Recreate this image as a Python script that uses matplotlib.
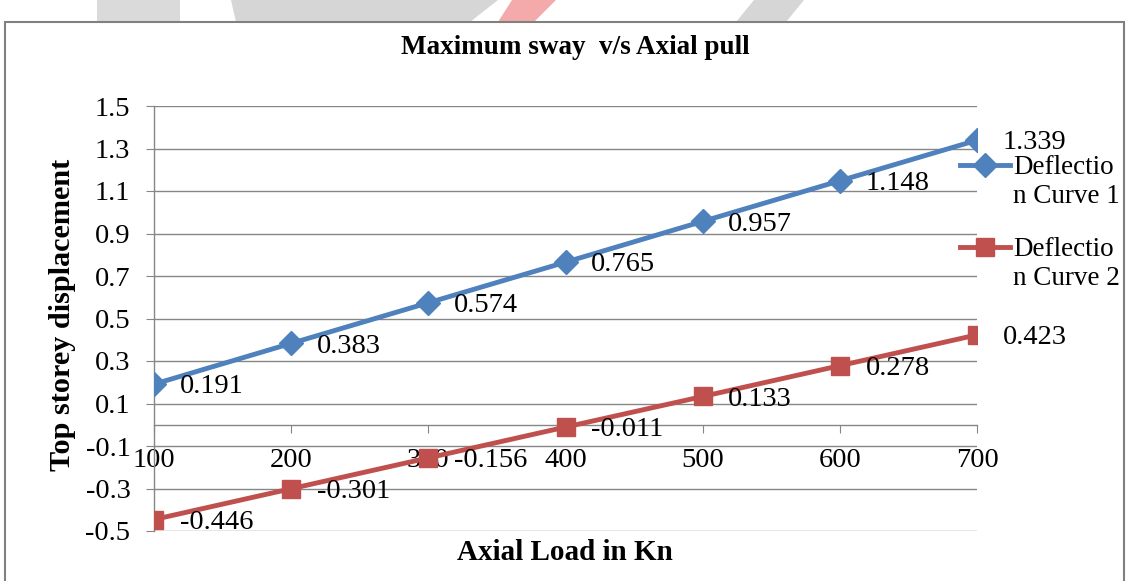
import matplotlib.pyplot as plt
from matplotlib.patches import Rectangle, Polygon
from matplotlib.lines import Line2D

plt.rcParams['font.family'] = 'Liberation Serif'
plt.rcParams['axes.unicode_minus'] = False

# data
load = [100, 200, 300, 400, 500, 600, 700]
curve1 = [0.191, 0.383, 0.574, 0.765, 0.957, 1.148, 1.339]
curve2 = [-0.446, -0.301, -0.156, -0.011, 0.133, 0.278, 0.423]
names = ['Deflectio\nn Curve 1', 'Deflectio\nn Curve 2']
yticks = [-0.5, -0.3, -0.1, 0.1, 0.3, 0.5, 0.7, 0.9, 1.1, 1.3, 1.5]

W, H = 1131, 581
blue = '#4F81BD'
red = '#C0504D'
grey = '#868686'
fs = 20.5

fig = plt.figure(figsize=(W / 100, H / 100), dpi=100)

# faint watermark shapes at the very top
shapes = [
    ([(97, 0), (180, 0), (180, 22), (97, 22)], '#dadada'),
    ([(231, 0), (498, 0), (470, 22), (236, 22)], '#d6d6d6'),
    ([(512, 0), (556, 0), (534, 22), (498, 22)], '#f4aaaa'),
    ([(754, 0), (804, 0), (786, 22), (736, 22)], '#d6d6d6'),
]
for pts, c in shapes:
    fig.add_artist(Polygon([(x / W, 1 - y / H) for x, y in pts], closed=True,
                           facecolor=c, edgecolor='none', transform=fig.transFigure))

# chart border
fig.add_artist(Rectangle((5 / W, -0.01), (1124 - 5) / W, (H - 22) / H + 0.01,
                         fill=False, edgecolor='#808080', lw=1.5, transform=fig.transFigure))

ax = fig.add_axes([154 / W, 1 - 531 / H, (977 - 154) / W, (531 - 106) / H])

ax.plot(load, curve1, color=blue, lw=3.5, marker='D', ms=12.5, zorder=3)
ax.plot(load, curve2, color=red, lw=3.5, marker='s', ms=13, zorder=3)

for x, v in zip(load, curve1):
    ax.annotate(str(v), (x, v), xytext=(18.5, -2), textcoords='offset points',
                va='center', ha='left', fontsize=fs)
for x, v in zip(load, curve2):
    ax.annotate(str(v), (x, v), xytext=(18.5, -2), textcoords='offset points',
                va='center', ha='left', fontsize=fs)

ax.set_xlim(100, 700)
ax.set_ylim(-0.5, 1.5)
ax.set_xticks(load)
ax.set_yticks(yticks)
ax.set_yticklabels([str(t) for t in yticks])
ax.yaxis.grid(True, color=grey, lw=1)
ax.set_axisbelow(True)

ax.spines['top'].set_visible(False)
ax.spines['right'].set_visible(False)
ax.spines['bottom'].set_position(('data', 0))
for s in ['left', 'bottom']:
    ax.spines[s].set_color(grey)
    ax.spines[s].set_linewidth(1)

ax.tick_params(axis='both', direction='out', length=6, color=grey, labelsize=fs)
ax.tick_params(axis='x', pad=11)
ax.tick_params(axis='y', pad=11)

fig.text(575 / W, 1 - 47 / H, 'Maximum sway  v/s Axial pull', ha='center', va='center',
         fontsize=19.5, fontweight='bold')
fig.text(63 / W, 1 - 315 / H, 'Top storey displacement', ha='center', va='center',
         rotation=90, fontsize=21.8, fontweight='bold')
fig.text(565 / W, 1 - 553 / H, 'Axial Load in Kn', ha='center', va='center',
         fontsize=21, fontweight='bold')

# legend, Excel style: handle sits at the first text line
for name, c, m, ms, yh in [(names[0], blue, 'D', 12.5, 165), (names[1], red, 's', 13, 247)]:
    fig.add_artist(Line2D([960 / W, 985 / W, 1010 / W], [1 - yh / H] * 3, color=c, lw=3.5,
                          marker=m, ms=ms, markevery=[1], transform=fig.transFigure))
    fig.text(1013 / W, 1 - (yh + 17) / H, name, ha='left', va='center', fontsize=19.5)

fig.savefig('out.png', dpi=100)
